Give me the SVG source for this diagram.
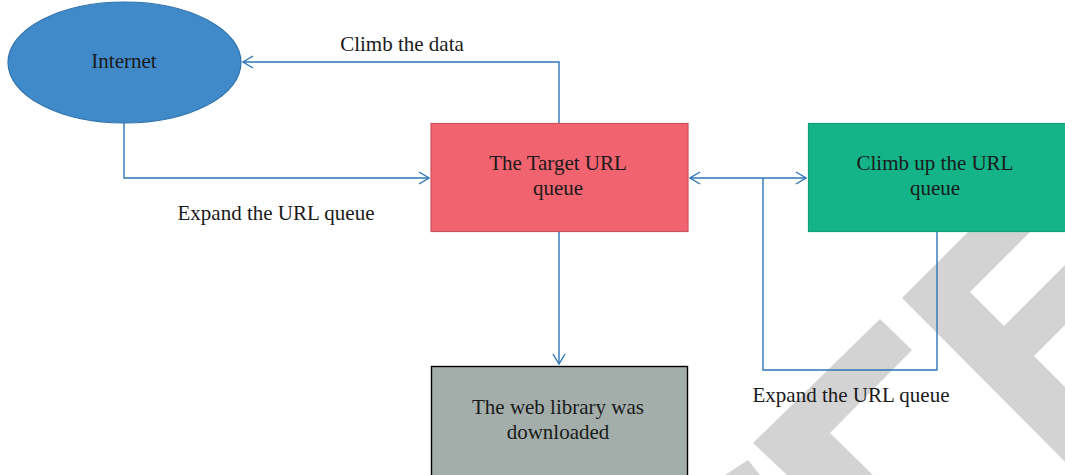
<svg xmlns="http://www.w3.org/2000/svg" width="1065" height="475" viewBox="0 0 1065 475">
<style>
.lbl{font-family:"Liberation Serif","Times New Roman",serif;font-size:21px;fill:#1a1a1a;text-anchor:middle}
.conn{fill:none;stroke:#2E75B6;stroke-width:1.4}
.wm{fill:#D3D3D3;stroke:none}
</style>
<defs>
<marker id="ah" viewBox="0 0 12 14" refX="11" refY="7" markerWidth="12" markerHeight="14" markerUnits="userSpaceOnUse" orient="auto-start-reverse">
<path d="M1,1 L11,7 L1,13" fill="none" stroke="#2E75B6" stroke-width="1.4"/>
</marker>
</defs>
<rect width="1065" height="475" fill="#ffffff"/>
<g id="watermark">
<polygon class="wm" points="753,443 880,319 912,350 830,433 873,475 787,475"/>
<polygon class="wm" points="748,460 725,475 760,475"/>
<polygon class="wm" points="902,298 1100,100 1162,100 970,292 1004,326 1100,230 1100,290 1034,356 1100,422 1100,497"/>
</g>
<g id="connectors">
<polyline class="conn" points="559,123 559,62 243,62" marker-end="url(#ah)"/>
<polyline class="conn" points="124,123 124,178 429,178" marker-end="url(#ah)"/>
<line class="conn" x1="690" y1="178" x2="806" y2="178" marker-start="url(#ah)" marker-end="url(#ah)"/>
<polyline class="conn" points="937,232 937,370 763,370 763,178"/>
<line class="conn" x1="559" y1="232" x2="559" y2="364" marker-end="url(#ah)"/>
</g>
<g id="internet">
<ellipse cx="124.5" cy="62.5" rx="116.5" ry="60.5" fill="#418AC9" stroke="#3072AE" stroke-width="1.2"/>
<text class="lbl" x="124" y="68">Internet</text>
</g>
<g id="target-queue">
<rect x="431" y="123.5" width="257" height="108" fill="#F0636F" stroke="#CF4F60" stroke-width="1.2"/>
<text class="lbl" x="558" y="170">The Target URL</text>
<text class="lbl" x="558" y="195">queue</text>
</g>
<g id="climb-queue">
<rect x="808.5" y="123.5" width="262" height="108" fill="#14B388" stroke="#10A07A" stroke-width="1.2"/>
<text class="lbl" x="935" y="170">Climb up the URL</text>
<text class="lbl" x="935" y="195">queue</text>
</g>
<g id="web-library">
<rect x="431.5" y="366.5" width="256" height="112" fill="#A3AEAB" stroke="#000000" stroke-width="1.4"/>
<text class="lbl" x="558" y="414">The web library was</text>
<text class="lbl" x="558" y="439">downloaded</text>
</g>
<g id="labels">
<text class="lbl" x="402" y="51">Climb the data</text>
<text class="lbl" x="276" y="220">Expand the URL queue</text>
<text class="lbl" x="851" y="402">Expand the URL queue</text>
</g>
</svg>
